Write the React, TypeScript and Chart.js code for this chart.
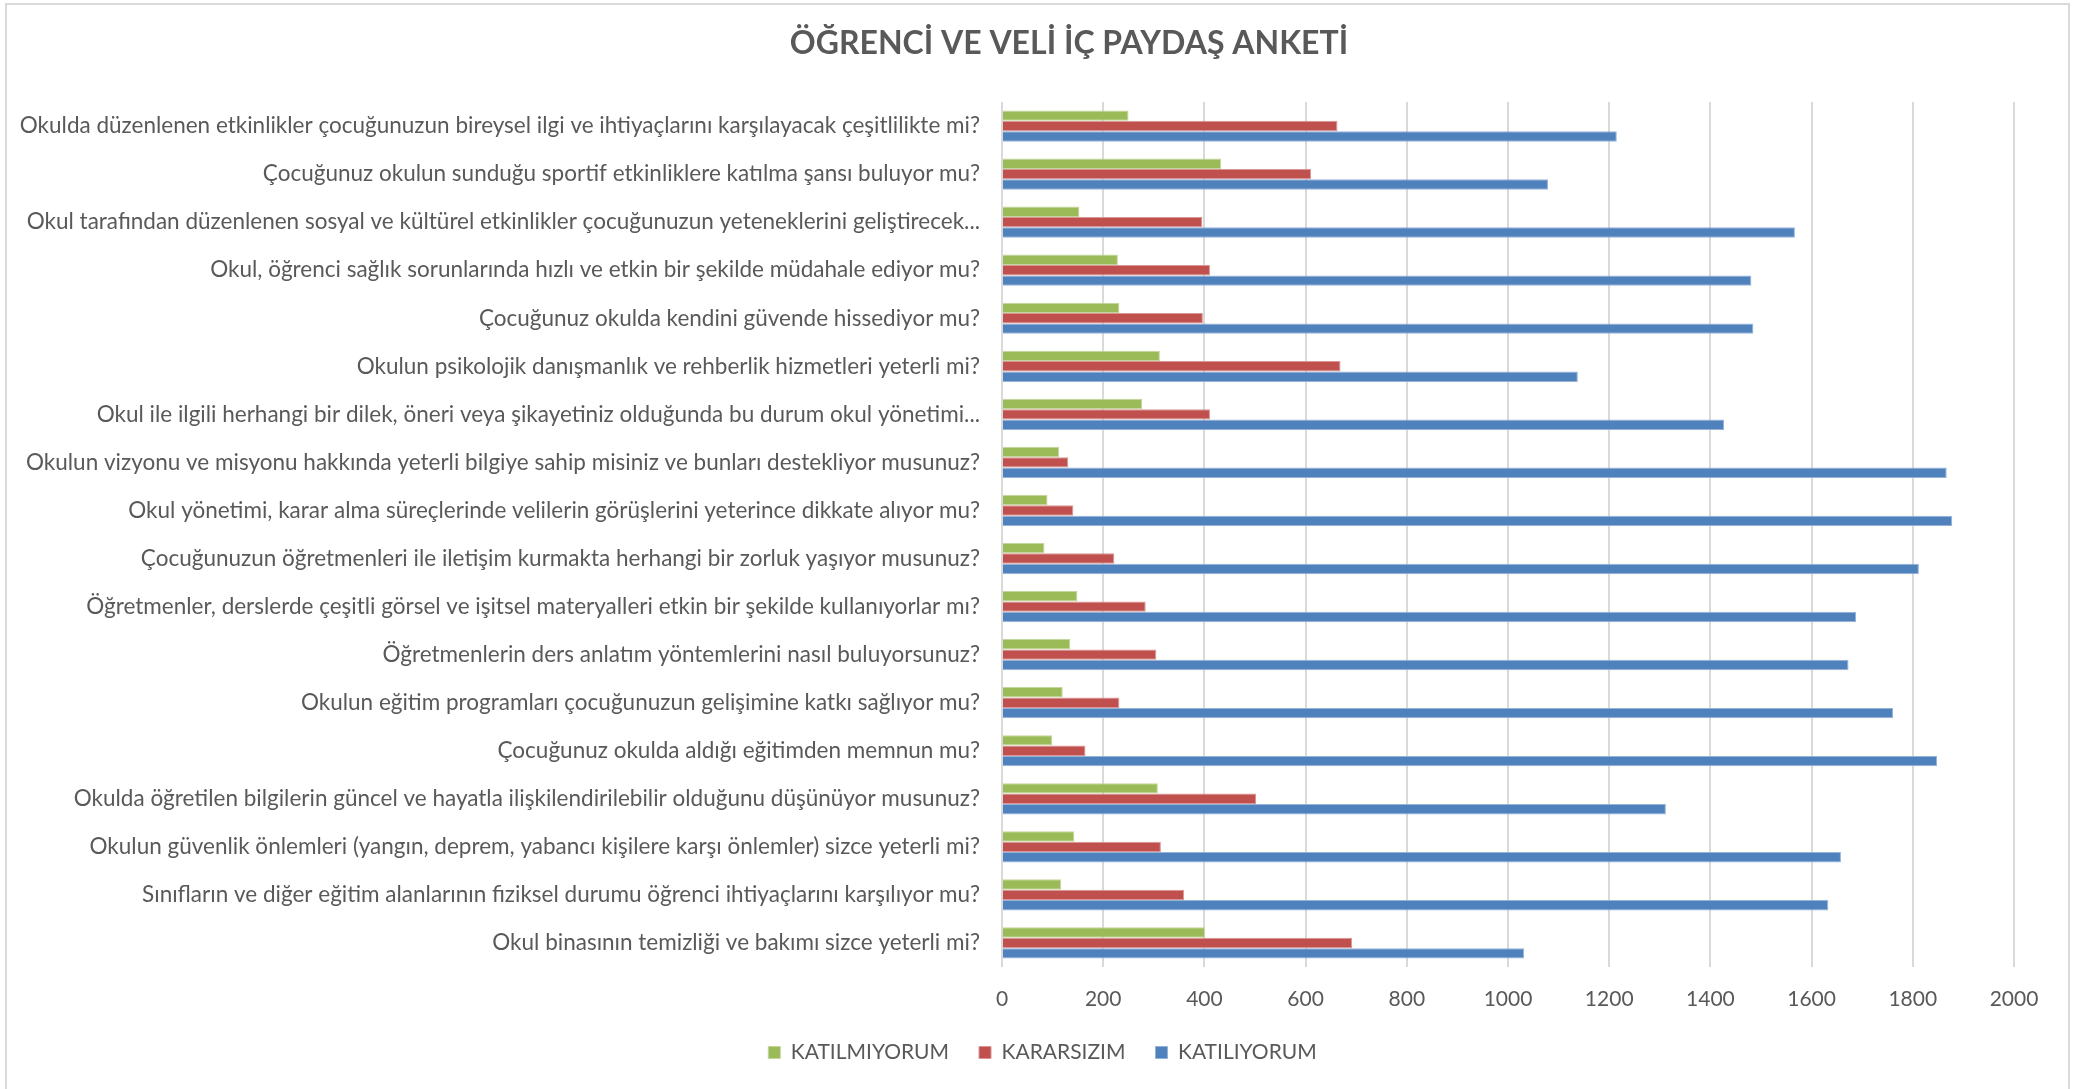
import React, { useEffect, useRef } from "react";
import { Chart, registerables } from "chart.js";

Chart.register(...registerables);

const chartTitle = "ÖĞRENCİ VE VELİ İÇ PAYDAŞ ANKETİ";

const categories = [
  "Okulda düzenlenen etkinlikler çocuğunuzun bireysel ilgi ve ihtiyaçlarını karşılayacak çeşitlilikte mi?",
  "Çocuğunuz okulun sunduğu sportif etkinliklere katılma şansı buluyor mu?",
  "Okul tarafından düzenlenen sosyal ve kültürel etkinlikler çocuğunuzun yeteneklerini geliştirecek...",
  "Okul, öğrenci sağlık sorunlarında hızlı ve etkin bir şekilde müdahale ediyor mu?",
  "Çocuğunuz okulda kendini güvende hissediyor mu?",
  "Okulun psikolojik danışmanlık ve rehberlik hizmetleri yeterli mi?",
  "Okul ile ilgili herhangi bir dilek, öneri veya şikayetiniz olduğunda bu durum okul yönetimi...",
  "Okulun vizyonu ve misyonu hakkında yeterli bilgiye sahip misiniz ve bunları destekliyor musunuz?",
  "Okul yönetimi, karar alma süreçlerinde velilerin görüşlerini yeterince dikkate alıyor mu?",
  "Çocuğunuzun öğretmenleri ile iletişim kurmakta herhangi bir zorluk yaşıyor musunuz?",
  "Öğretmenler, derslerde çeşitli görsel ve işitsel materyalleri etkin bir şekilde kullanıyorlar mı?",
  "Öğretmenlerin ders anlatım yöntemlerini nasıl buluyorsunuz?",
  "Okulun eğitim programları çocuğunuzun gelişimine katkı sağlıyor mu?",
  "Çocuğunuz okulda aldığı eğitimden memnun mu?",
  "Okulda öğretilen bilgilerin güncel ve hayatla ilişkilendirilebilir olduğunu düşünüyor musunuz?",
  "Okulun güvenlik önlemleri (yangın, deprem, yabancı kişilere karşı önlemler) sizce yeterli mi?",
  "Sınıfların ve diğer eğitim alanlarının fiziksel durumu öğrenci ihtiyaçlarını karşılıyor mu?",
  "Okul binasının temizliği ve bakımı sizce yeterli mi?",
];

const katilmiyorum = [250, 433, 153, 229, 232, 312, 277, 113, 90, 84, 149, 135, 120, 99, 308, 143, 117, 401];
const kararsizim = [663, 611, 396, 411, 397, 669, 411, 131, 141, 222, 284, 305, 232, 165, 502, 314, 360, 692];
const katiliyorum = [1215, 1079, 1567, 1481, 1485, 1138, 1427, 1867, 1878, 1812, 1688, 1673, 1761, 1848, 1312, 1658, 1633, 1032];

const seriesNames = ["KATILMIYORUM", "KARARSIZIM", "KATILIYORUM"];
const xMin = 0;
const xMax = 2000;
const xStep = 200;

const FONT = "Lato, 'Noto Sans', sans-serif";
const TEXT = "#595959";

const titlePlugin = {
  id: "centeredTitle",
  afterDraw(chart: any) {
    const ctx = chart.ctx;
    ctx.save();
    ctx.font = `bold 32px ${FONT}`;
    ctx.fillStyle = TEXT;
    ctx.textAlign = "center";
    ctx.textBaseline = "middle";
    ctx.fillText(chartTitle, 1069, 44);
    ctx.restore();
  },
};

export default function App() {
  const canvasRef = useRef<HTMLCanvasElement | null>(null);

  useEffect(() => {
    document.body.style.margin = "0";
    const canvas = canvasRef.current;
    if (!canvas) return;
    Chart.defaults.font.family = FONT;
    const chart = new Chart(canvas, {
      type: "bar",
      data: {
        labels: categories,
        datasets: [
          {
            label: seriesNames[0],
            data: katilmiyorum,
            backgroundColor: "#9BBB59",
            borderColor: "#C3D69B",
            borderWidth: 1,
            categoryPercentage: 0.65,
            barPercentage: 1.0,
          },
          {
            label: seriesNames[1],
            data: kararsizim,
            backgroundColor: "#C0504D",
            borderColor: "#D99694",
            borderWidth: 1,
            categoryPercentage: 0.65,
            barPercentage: 1.0,
          },
          {
            label: seriesNames[2],
            data: katiliyorum,
            backgroundColor: "#4F81BD",
            borderColor: "#95B3D7",
            borderWidth: 1,
            categoryPercentage: 0.65,
            barPercentage: 1.0,
          },
        ],
      },
      plugins: [titlePlugin],
      options: {
        indexAxis: "y",
        responsive: false,
        animation: false,
        devicePixelRatio: 1,
        layout: { padding: { left: 0, right: 0, top: 102, bottom: 16 } },
        plugins: {
          title: { display: false },
          legend: {
            position: "bottom",
            labels: {
              color: TEXT,
              font: { size: 21, family: FONT },
              boxWidth: 12,
              boxHeight: 12,
              padding: 30,
            },
          },
          tooltip: { enabled: false },
        },
        scales: {
          x: {
            min: xMin,
            max: xMax,
            ticks: {
              stepSize: xStep,
              color: TEXT,
              font: { size: 21, family: FONT },
              padding: 20,
              callback: (v: any) => String(v),
            },
            grid: { color: "#D9D9D9", lineWidth: 2, drawTicks: false },
            border: { display: false },
            afterFit: (scale: any) => {
              scale.height = 45;
            },
          },
          y: {
            ticks: { color: TEXT, font: { size: 22.5, family: FONT }, padding: 22, autoSkip: false },
            grid: { display: false, drawTicks: false },
            border: { display: false },
            afterFit: (scale: any) => {
              scale.width = 1002;
            },
          },
          yRight: {
            type: "linear",
            position: "right",
            display: true,
            ticks: { display: false },
            grid: { display: false, drawTicks: false },
            border: { display: false },
            afterFit: (scale: any) => {
              scale.width = 71;
            },
          },
        },
      },
    });
    return () => chart.destroy();
  }, []);

  return (
    <div style={{ position: "relative", width: 2085, height: 1089, overflow: "hidden", background: "#fff" }}>
      <div
        style={{
          position: "absolute",
          left: 5,
          top: 3,
          width: 2061,
          height: 1100,
          border: "2px solid #D9D9D9",
          boxSizing: "content-box",
        }}
      />
      <canvas ref={canvasRef} width={2085} height={1089} style={{ position: "absolute", left: 0, top: 0 }} />
    </div>
  );
}
